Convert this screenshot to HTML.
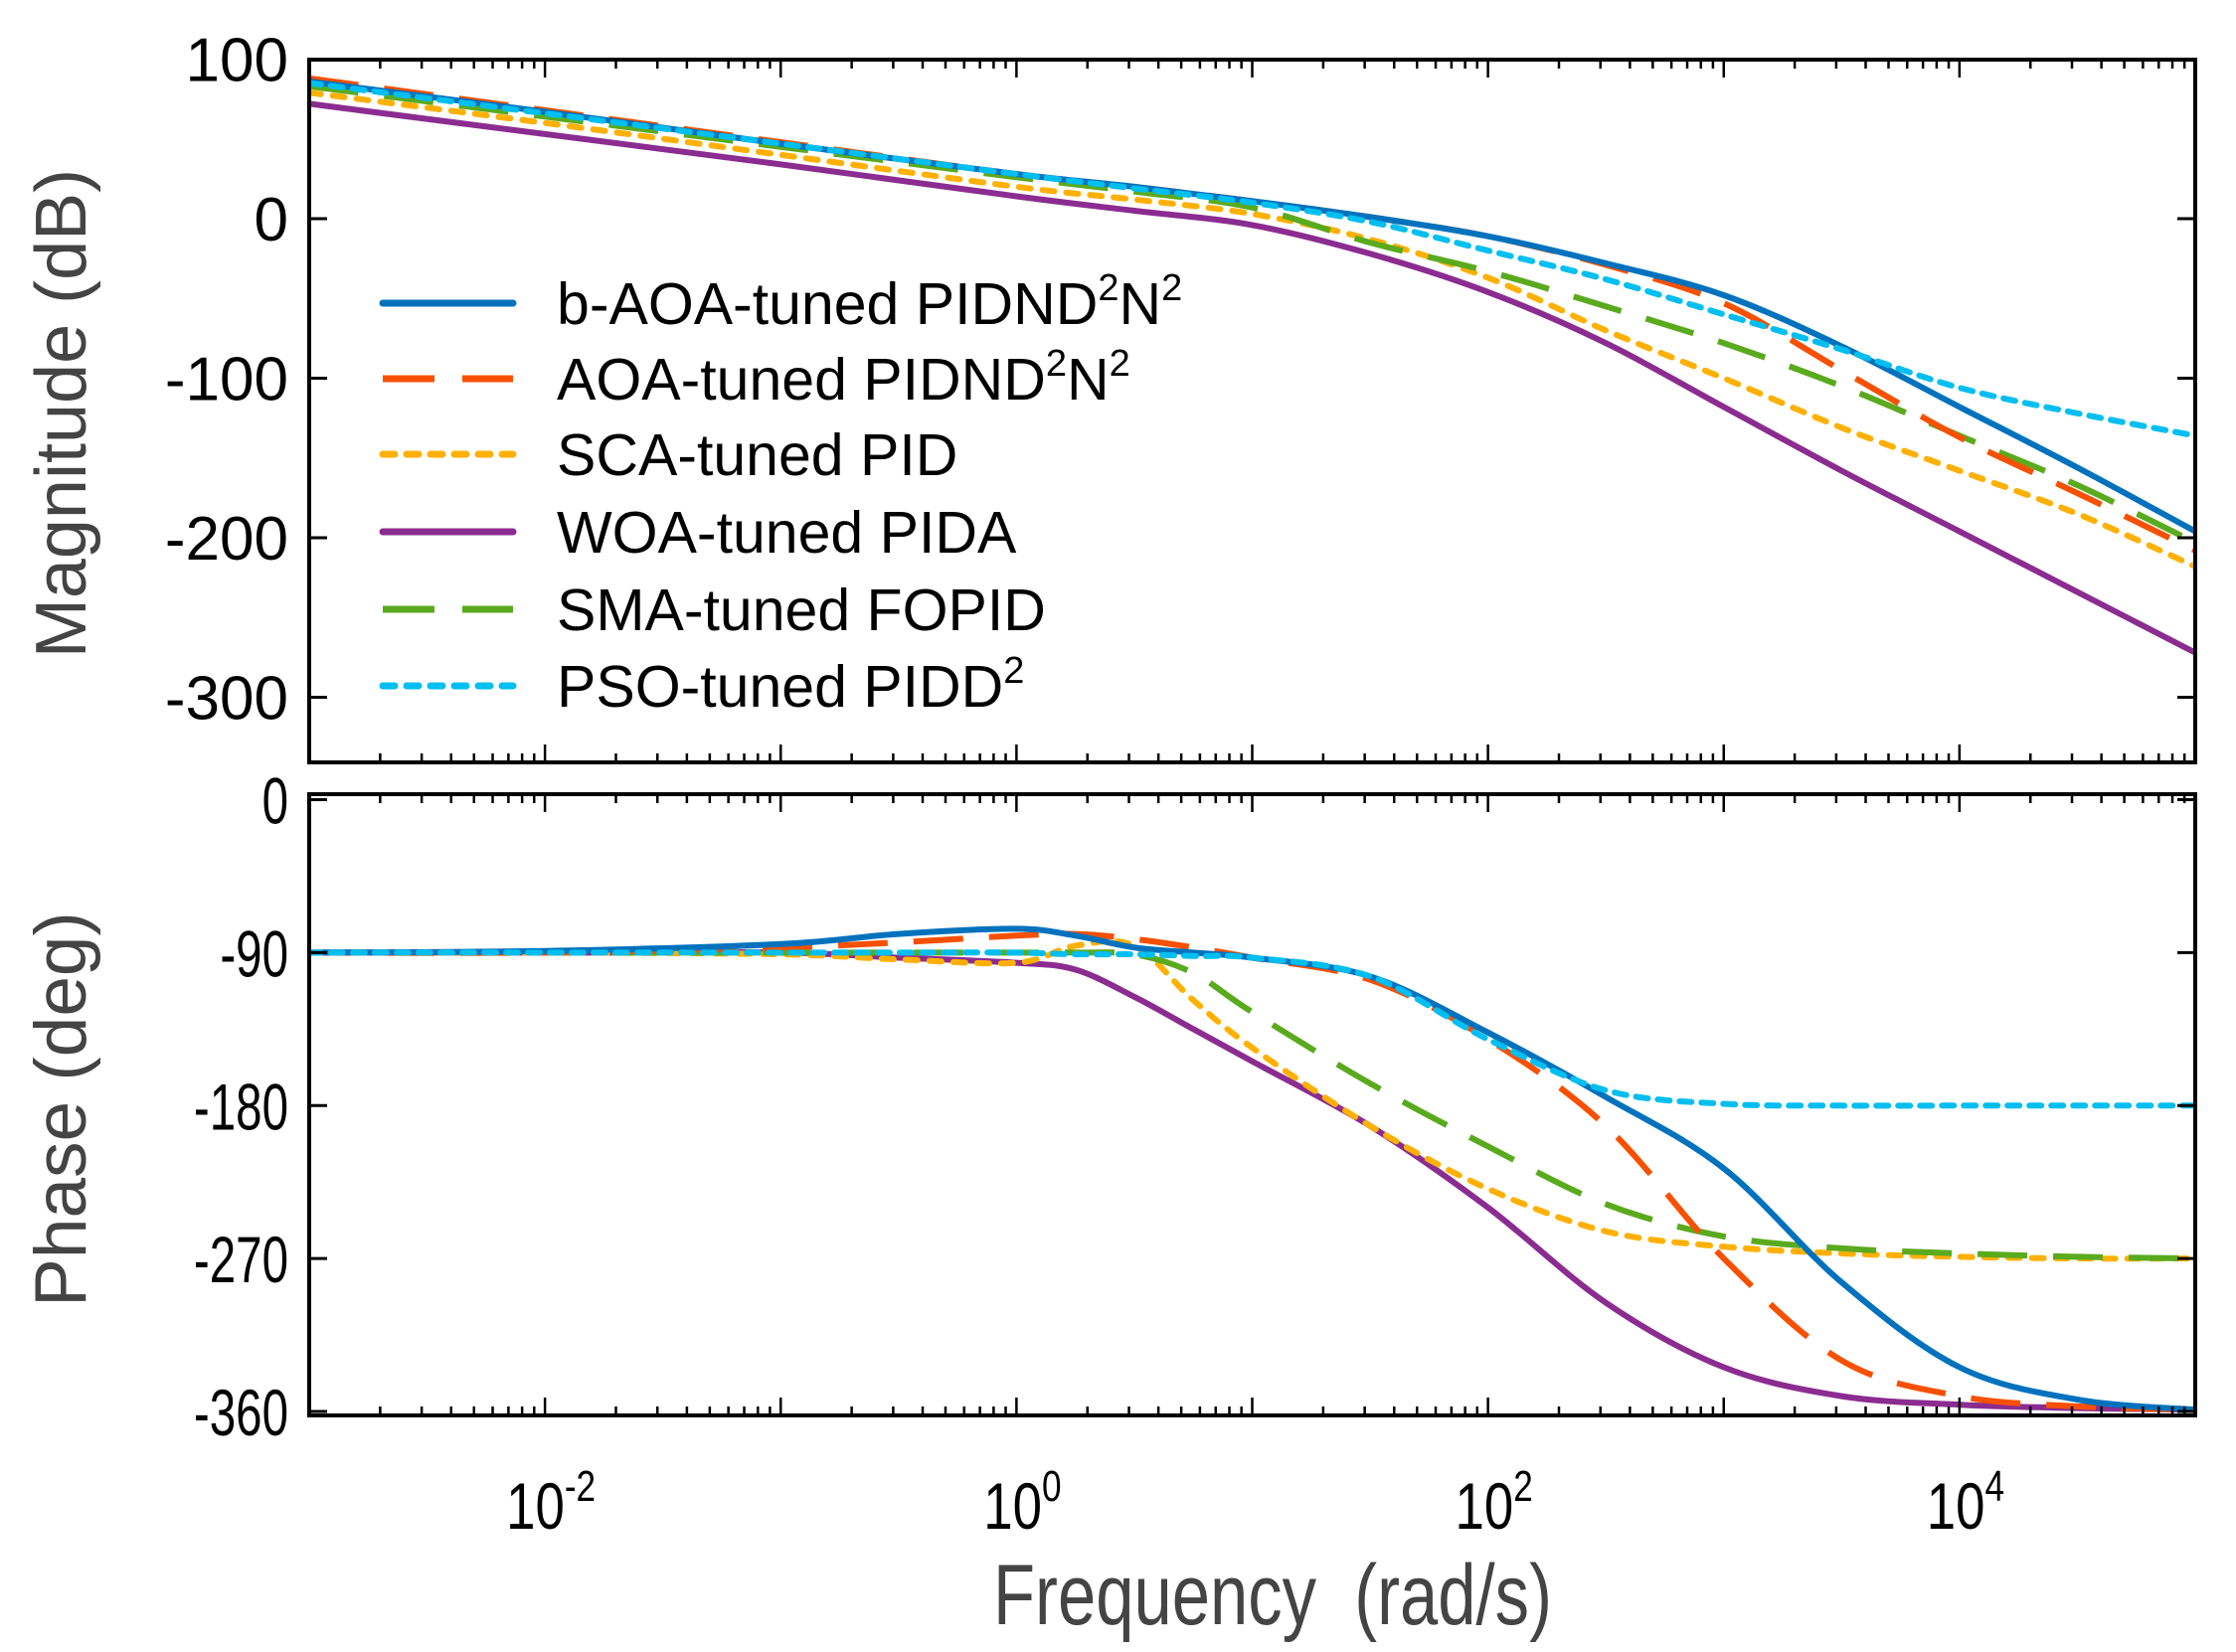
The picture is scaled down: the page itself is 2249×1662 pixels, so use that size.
<!DOCTYPE html>
<html><head><meta charset="utf-8">
<style>
html,body{margin:0;padding:0;background:#fff;}
svg{display:block;font-family:"Liberation Sans",Arial,sans-serif;}
</style></head>
<body>
<svg id="chart" xmlns="http://www.w3.org/2000/svg" width="2249" height="1662" viewBox="0 0 2249 1662">
<rect width="2249" height="1662" fill="#fff"/>
<g id="topPlot"></g>
<g id="botPlot"></g>
<g id="legend"></g>
</svg>
<script>
const seriesNames = ["b-AOA-tuned PIDND2N2","AOA-tuned PIDND2N2","SCA-tuned PID","WOA-tuned PIDA","SMA-tuned FOPID","PSO-tuned PIDD2"];
const magLogF = [-3,-2,-1,0,0.5,1,1.5,2,2.5,3,3.5,4,4.5,5];
const magBAOA = [86,67,47,28,20,11,1,-11,-28,-48,-80,-118,-156,-196];
const magAOA  = [88,68,48,28,20,11,1,-11,-29,-53,-95,-137,-172,-208];
const magSCA  = [79,60,40,20,12,3,-13,-37,-70,-100,-131,-158,-185,-218];
const magWOA  = [72,53,34,14,5,-4,-22,-46,-78,-118,-158,-196,-234,-272];
const magSMA  = [83,64,45,26,17,7,-15,-33,-55,-78,-105,-136,-167,-203];
const magPSO  = [85,66,47,28,19,10,-2,-20,-38,-60,-82,-106,-122,-136];
const phLogF = [-3,-2,-1,-0.5,0,0.25,0.5,0.75,1,1.5,2,2.5,3,3.5,4,4.5,5];
const phBAOA = [-90,-89,-85,-79,-76,-80,-87,-90,-93,-104,-137,-175,-217,-284,-334,-353,-359];
const phAOA  = [-90,-90,-87,-84,-80,-79,-82,-87,-93,-106,-141,-192,-270,-330,-351,-357,-359];
const phSCA  = [-90,-90,-91,-94,-96,-86,-86,-118,-146,-192,-229,-254,-263,-267,-269,-270,-270];
const phWOA  = [-90,-90,-90,-93,-96,-100,-116,-135,-154,-192,-240,-296,-334,-351,-356,-358,-359];
const phSMA  = [-90,-90,-90,-90,-90,-90,-91,-102,-125,-167,-204,-238,-257,-264,-267,-269,-270];
const phPSO  = [-90,-90,-90,-90,-90,-91,-91,-92,-93,-104,-141,-171,-179,-180,-180,-180,-180];
const magTicks = [100,0,-100,-200,-300];
const phTicks = [0,-90,-180,-270,-360];
const xTickExp = [-2,0,2,4];

const NS="http://www.w3.org/2000/svg";
const X0=311,X1=2208;
function xs(l){return X0+(l+3)/8*(X1-X0);}
const TY0=60,TY1=767;
function ym(d){return 220-1.605*d;}
const PY0=799,PY1=1424;
function yp(d){return 804.5-d*(1420-804.5)/360;}
const colors=["#0072BD","#F75000","#FFB000","#8B2C90","#5AAA1E","#00BFF0"];
const dashes=["","50,26","12,12","","50,26","12,10"];
const caps=["round","butt","round","round","butt","round"];
function el(tag,attrs,parent){const e=document.createElementNS(NS,tag);for(const k in attrs)e.setAttribute(k,attrs[k]);parent.appendChild(e);return e;}
function pathFrom(xsArr,ysArr){
  const p=xsArr.map((v,i)=>[v,ysArr[i]]);
  let d="M"+p[0][0].toFixed(1)+","+p[0][1].toFixed(1);
  for(let i=0;i<p.length-1;i++){
    const p0=p[Math.max(0,i-1)],p1=p[i],p2=p[i+1],p3=p[Math.min(p.length-1,i+2)];
    const c1=[p1[0]+(p2[0]-p0[0])/6,p1[1]+(p2[1]-p0[1])/6];
    const c2=[p2[0]-(p3[0]-p1[0])/6,p2[1]-(p3[1]-p1[1])/6];
    d+=" C"+c1[0].toFixed(1)+","+c1[1].toFixed(1)+" "+c2[0].toFixed(1)+","+c2[1].toFixed(1)+" "+p2[0].toFixed(1)+","+p2[1].toFixed(1);
  }
  return d;
}
function axes(g,y0,y1,ticksVals,yf,condensed,name){
  for(let e=-3;e<5;e++){for(let m=1;m<10;m++){const x=xs(e+Math.log10(m));const len=m===1?18:9;
    if(x<=X0+1)continue;
    el("line",{x1:x,y1:y0,x2:x,y2:y0+len,stroke:"#000","stroke-width":2.5},g);
    el("line",{x1:x,y1:y1,x2:x,y2:y1-len,stroke:"#000","stroke-width":2.5},g);}}
  ticksVals.forEach(v=>{const y=yf(v);
    el("line",{x1:X0,y1:y,x2:X0+18,y2:y,stroke:"#000","stroke-width":3},g);
    el("line",{x1:X1,y1:y,x2:X1-18,y2:y,stroke:"#000","stroke-width":3},g);
    const t=el("text",{"font-size":condensed?66:62,"text-anchor":"end",fill:"#000",transform:"translate(290,"+(y+(condensed?24:22))+")"+(condensed?" scale(0.72,1)":"")},g);
    
    
    t.textContent=String(v);});
  const r=el("rect",{x:X0,y:y0,width:X1-X0,height:y1-y0,fill:"none",stroke:"#000","stroke-width":4},g);
  
  
}
const gTopEl=document.getElementById("topPlot"),gBotEl=document.getElementById("botPlot");
const clipD=el("defs",{},document.getElementById("chart"));
const c1=el("clipPath",{id:"ct"},clipD);el("rect",{x:X0,y:TY0,width:X1-X0,height:TY1-TY0},c1);
const c2=el("clipPath",{id:"cb"},clipD);el("rect",{x:X0,y:PY0,width:X1-X0,height:PY1-PY0},c2);
const mags=[magBAOA,magAOA,magSCA,magWOA,magSMA,magPSO];
const phs=[phBAOA,phAOA,phSCA,phWOA,phSMA,phPSO];
const order=[3,2,4,1,0,5];
const gt=el("g",{"clip-path":"url(#ct)"},gTopEl);
const gb=el("g",{"clip-path":"url(#cb)"},gBotEl);
order.forEach(i=>{
  const p=el("path",{d:pathFrom(magLogF.map(xs),mags[i].map(ym)),fill:"none",stroke:colors[i],"stroke-width":6,"stroke-dasharray":dashes[i],"stroke-linecap":caps[i]},gt);
  
  
  const q=el("path",{d:pathFrom(phLogF.map(xs),phs[i].map(yp)),fill:"none",stroke:colors[i],"stroke-width":6,"stroke-dasharray":dashes[i],"stroke-linecap":caps[i]},gb);
  
  
});
axes(gTopEl,TY0,TY1,magTicks,ym,false,"magnitude");
axes(gBotEl,PY0,PY1,phTicks,yp,true,"phase");
xTickExp.forEach(e=>{
  const t=el("text",{"font-size":66,"text-anchor":"middle",fill:"#000",transform:"translate("+(xs(e)+6)+",1538) scale(0.8,1)"},gBotEl);
  
  
  t.textContent="10";
  const s=document.createElementNS(NS,"tspan");s.setAttribute("dy","-28");s.setAttribute("font-size","44");s.textContent=String(e);t.appendChild(s);
});
let a=el("text",{"font-size":72,"text-anchor":"middle",fill:"#444",transform:"translate(86,416) rotate(-90)"},gTopEl);


a.textContent="Magnitude (dB)";
a=el("text",{"font-size":73,"text-anchor":"middle",fill:"#444",transform:"translate(86,1116) rotate(-90)"},gBotEl);


a.textContent="Phase (deg)";
a=el("text",{"font-size":86,"text-anchor":"middle",fill:"#444",transform:"translate(1280,1634) scale(0.8,1)"},gBotEl);


a.textContent="Frequency\u00a0 (rad/s)";
const lg=document.getElementById("legend");
const labels=[["b-AOA-tuned PIDND","2","N","2"],["AOA-tuned PIDND","2","N","2"],["SCA-tuned PID"],["WOA-tuned PIDA"],["SMA-tuned FOPID"],["PSO-tuned PIDD","2"]];
const rowY=[305,381,457,535,613,690];
labels.forEach((lab,i)=>{
  const y=rowY[i];
  const ln=el("line",{x1:385,y1:y,x2:516,y2:y,stroke:colors[i],"stroke-width":7,"stroke-dasharray":dashes[i]==="50,26"?"52,28":(dashes[i]?"12,12":""),"stroke-linecap":caps[i]},lg);
  
  
  const t=el("text",{x:560,y:y+21,"font-size":59,fill:"#000"},lg);
  
  
  lab.forEach((s,k)=>{const ts=document.createElementNS(NS,"tspan");
    if(k%2===1){ts.setAttribute("dy","-24");ts.setAttribute("font-size","38");}
    else if(k>0){ts.setAttribute("dy","24");}
    ts.textContent=s;t.appendChild(ts);});
});
</script>
</body></html>
